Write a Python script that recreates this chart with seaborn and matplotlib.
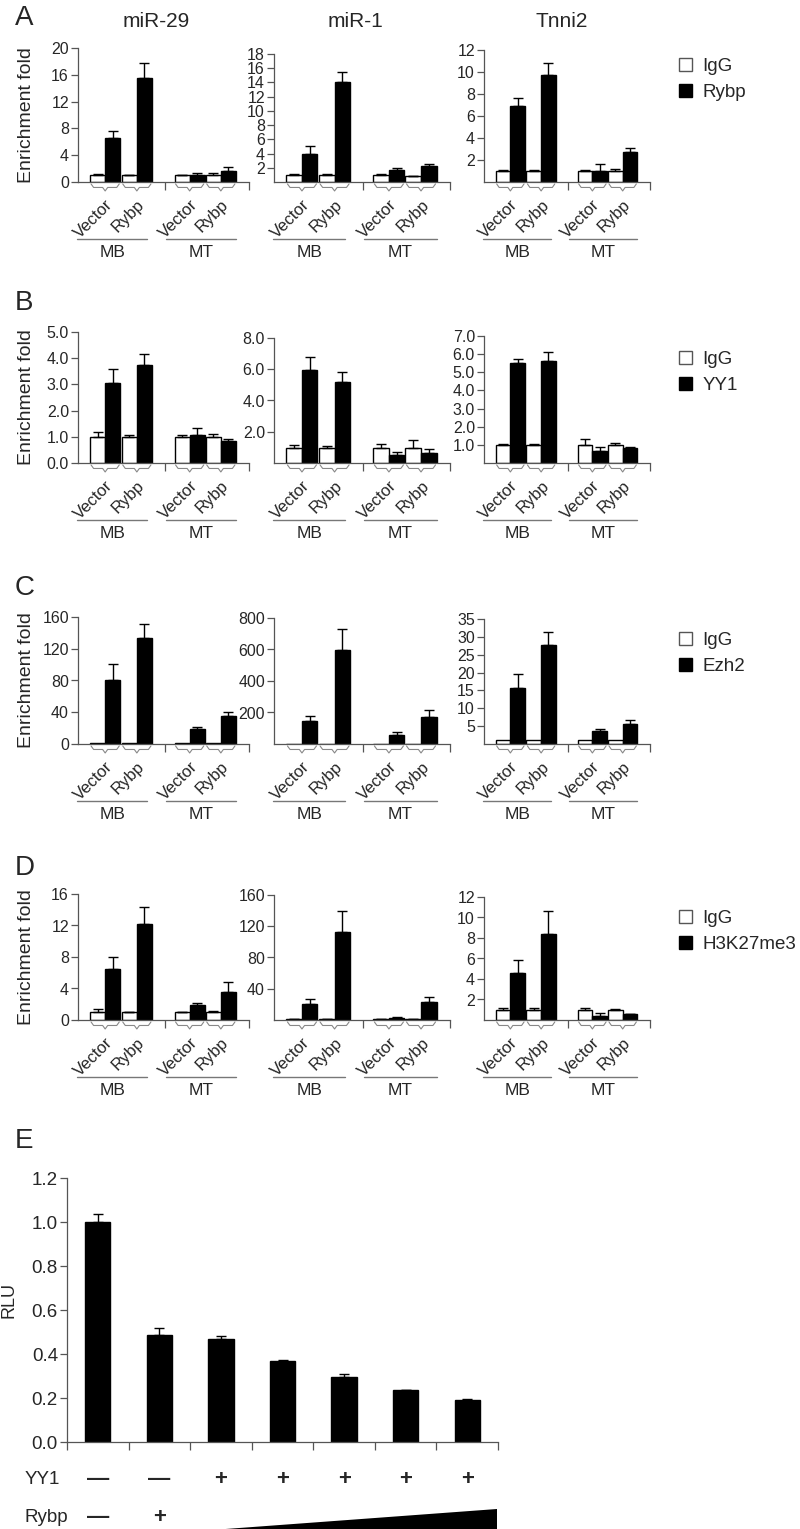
import numpy as np
import pandas as pd
import seaborn as sns
import matplotlib.pyplot as plt
import matplotlib.transforms as mtransforms
from matplotlib.patches import Patch, Polygon

# ---- data -------------------------------------------------------------
targets = ['miR-29', 'miR-1', 'Tnni2']
antibodies = ['Rybp', 'YY1', 'Ezh2', 'H3K27me3']
conditions = ['Vector', 'Rybp', 'Vector', 'Rybp']
cells = ['MB', 'MT']
letters = ['A', 'B', 'C', 'D', 'E']

# each entry: [miR-29, miR-1, Tnni2], 4 values = MB-Vector, MB-Rybp, MT-Vector, MT-Rybp
rybp_igg = [[1.0, 1.0, 1.0, 1.0], [1.0, 1.0, 1.0, 0.8], [1.0, 1.0, 1.0, 1.0]]
rybp_igg_err = [[0.2, 0.1, 0.05, 0.4], [0.1, 0.05, 0.05, 0.1], [0.05, 0.1, 0.1, 0.2]]
rybp_ab = [[6.5, 15.5, 1.1, 1.7], [4.0, 14.0, 1.7, 2.2], [6.9, 9.7, 1.0, 2.75]]
rybp_ab_err = [[1.1, 2.2, 0.3, 0.5], [1.0, 1.5, 0.2, 0.3], [0.7, 1.1, 0.6, 0.35]]

yy1_igg = [[1.0, 1.0, 1.0, 1.0], [0.95, 0.95, 0.94, 0.98], [1.0, 1.0, 1.0, 1.0]]
yy1_igg_err = [[0.2, 0.08, 0.08, 0.1], [0.2, 0.12, 0.3, 0.5], [0.02, 0.05, 0.32, 0.12]]
yy1_ab = [[3.05, 3.75, 1.07, 0.82], [5.95, 5.17, 0.51, 0.66], [5.5, 5.62, 0.68, 0.81]]
yy1_ab_err = [[0.55, 0.4, 0.28, 0.1], [0.8, 0.68, 0.2, 0.24], [0.22, 0.5, 0.22, 0.09]]

ezh2_igg = [[1.0, 1.0, 1.0, 1.0], [1.0, 1.0, 1.0, 1.0], [1.1, 1.1, 1.1, 1.1]]
ezh2_igg_err = [[0, 0, 0, 0], [0, 0, 0, 0], [0, 0, 0, 0]]
ezh2_ab = [[80, 134, 19, 35.5], [148, 597, 55, 173], [15.6, 27.7, 3.6, 5.6]]
ezh2_ab_err = [[21, 17, 2, 5.2], [32, 131, 18, 43], [3.9, 3.7, 0.5, 1.1]]

h3k_igg = [[1.0, 1.0, 1.0, 1.0], [1.0, 1.0, 1.0, 0.8], [1.0, 1.0, 1.0, 1.0]]
h3k_igg_err = [[0.35, 0.05, 0.05, 0.2], [0.2, 0.2, 0.2, 0.2], [0.2, 0.2, 0.2, 0.12]]
h3k_ab = [[6.5, 12.2, 1.9, 3.6], [20.5, 113, 3.0, 23.5], [4.6, 8.4, 0.42, 0.55]]
h3k_ab_err = [[1.55, 2.1, 0.3, 1.2], [6.5, 27, 1.0, 5.5], [1.25, 2.25, 0.23, 0.05]]

yticks_rybp = [[0, 4, 8, 12, 16, 20], [2, 4, 6, 8, 10, 12, 14, 16, 18], [2, 4, 6, 8, 10, 12]]
yticks_yy1 = [[0, 1, 2, 3, 4, 5], [2, 4, 6, 8], [1, 2, 3, 4, 5, 6, 7]]
yticks_ezh2 = [[0, 40, 80, 120, 160], [200, 400, 600, 800], [5, 10, 15, 20, 25, 30, 35]]
yticks_h3k = [[0, 4, 8, 12, 16], [40, 80, 120, 160], [2, 4, 6, 8, 10, 12]]

igg_all = [rybp_igg, yy1_igg, ezh2_igg, h3k_igg]
igg_err_all = [rybp_igg_err, yy1_igg_err, ezh2_igg_err, h3k_igg_err]
ab_all = [rybp_ab, yy1_ab, ezh2_ab, h3k_ab]
ab_err_all = [rybp_ab_err, yy1_ab_err, ezh2_ab_err, h3k_ab_err]
yticks_all = [yticks_rybp, yticks_yy1, yticks_ezh2, yticks_h3k]
tick_fmt = ['{:.0f}', '{:.1f}', '{:.0f}', '{:.0f}']

# panel E luciferase
rlu = [1.0, 0.485, 0.468, 0.37, 0.297, 0.235, 0.19]
rlu_err = [0.035, 0.035, 0.015, 0.003, 0.012, 0.003, 0.007]
yy1_marks = ['—', '—', '+', '+', '+', '+', '+']
rybp_marks = ['—', '+']
rlu_ticks = [0.0, 0.2, 0.4, 0.6, 0.8, 1.0, 1.2]

# ---- layout (pixels) ----------------------------------------------------
W, H = 800, 1529
row_bottom = [182, 463, 744, 1020]
row_tops = [[48, 54, 50], [332, 338, 336], [617, 618, 619], [894, 895, 897]]
col_left = [78, 274, 484]
col_width = [171, 176, 166]
pair_x = [27, 58.5, 111, 142]
letter_base = [25, 310, 595, 875, 1148]
leg_top = [58, 351, 632, 910]

sns.set_style('ticks')
plt.rcParams['font.family'] = ['Liberation Sans', 'DejaVu Sans']
AX = '#555555'

fig = plt.figure(figsize=(8, 15.2905), dpi=100)
pxT = mtransforms.Affine2D().scale(1 / W, -1 / H).translate(0, 1) + fig.transFigure


def px_axes(l, t, w, h):
    return fig.add_axes([l / W, 1 - (t + h) / H, w / W, h / H])


def interleave(a, b):
    out = []
    for u, v in zip(a, b):
        out += [u, v]
    return out


def add_errs(ax, errs):
    bars = sorted(ax.patches, key=lambda p: p.get_x())
    for p, e in zip(bars, errs):
        if e > 0:
            ax.errorbar(p.get_x() + p.get_width() / 2, p.get_height(), yerr=[[0], [e]],
                        fmt='none', ecolor='black', elinewidth=1, capsize=3.5, capthick=1)


for c, t in enumerate(targets):
    fig.text(col_left[c] + [78, 81, 78][c], 27, t, transform=pxT, ha='center',
             va='baseline', fontsize=15)

for r, ab in enumerate(antibodies):
    bot = row_bottom[r]
    fig.text(15, letter_base[r], letters[r], transform=pxT, fontsize=20, va='baseline')
    for c, tgt in enumerate(targets):
        top = row_tops[r][c]
        ax = px_axes(col_left[c], top, col_width[c], bot - top)
        df = pd.DataFrame({
            'pos': np.repeat(pair_x, 2),
            'ab': ['IgG', ab] * 4,
            'val': interleave(igg_all[r][c], ab_all[r][c]),
        })
        sns.barplot(data=df, x='pos', y='val', hue='ab', hue_order=['IgG', ab],
                    palette={'IgG': 'white', ab: 'black'}, native_scale=True,
                    width=30 / 31, errorbar=None, saturation=1, edgecolor='black',
                    linewidth=1, legend=False, ax=ax)
        add_errs(ax, interleave(igg_err_all[r][c], ab_err_all[r][c]))

        yt = yticks_all[r][c]
        ax.set_yticks(yt, [tick_fmt[r].format(v) for v in yt])
        ax.set_xticks(pair_x, conditions, rotation=45, ha='right', va='top',
                      rotation_mode='anchor', fontsize=12)
        ax.set_xticks([86, 170], minor=True)
        ax.tick_params(axis='x', which='major', length=0, pad=10.5)
        ax.tick_params(axis='x', which='minor', length=6, width=0.9, color=AX)
        ax.tick_params(axis='y', length=5, width=0.9, color=AX, pad=1.5, labelsize=11.5)
        ax.set_xlabel('')
        ax.set_ylabel('')
        sns.despine(ax=ax)
        for s in ['left', 'bottom']:
            ax.spines[s].set_color(AX)
            ax.spines[s].set_linewidth(0.9)

        # braces, group lines and cell labels under the axis
        tr = mtransforms.blended_transform_factory(ax.transData, pxT)
        y0 = bot + 2
        for cx in pair_x:
            x0, x1 = cx - 14, cx + 14
            ax.plot([x0, x0 + 2.5, cx - 2.5, cx, cx + 2.5, x1 - 2.5, x1],
                    [y0, y0 + 3.5, y0 + 3.5, y0 + 7, y0 + 3.5, y0 + 3.5, y0],
                    transform=tr, color='#888888', lw=0.8, clip_on=False)
        for (gx0, gx1), cell in zip([(-1, 69), (87, 157)], cells):
            ax.plot([gx0, gx1], [bot + 57, bot + 57], transform=tr, color='#777777',
                    lw=1, clip_on=False)
            ax.text((gx0 + gx1) / 2, bot + 70, cell, transform=tr, ha='center',
                    va='center', fontsize=12.5)
        ax.set_xlim(0, 170)
        ax.set_ylim(0, yt[-1])

    fig.text(27, (row_tops[r][0] + bot) / 2, 'Enrichment fold', transform=pxT,
             rotation=90, ha='center', va='center', fontsize=14)
    handles = [Patch(facecolor='white', edgecolor=AX, lw=1),
               Patch(facecolor='black', edgecolor='black', lw=1)]
    fig.legend(handles, ['IgG', ab], loc='upper left', bbox_to_anchor=(679, leg_top[r]),
               bbox_transform=pxT, frameon=False, fontsize=13.5, handlelength=0.7,
               handleheight=0.7, handletextpad=0.55, labelspacing=0.45, borderpad=0,
               borderaxespad=0)

# ---- panel E --------------------------------------------------------------
fig.text(15, letter_base[4], letters[4], transform=pxT, fontsize=20, va='baseline')
axE = px_axes(67, 1178, 431, 264)
dfE = pd.DataFrame({'lane': list(range(len(rlu))), 'rlu': rlu})
sns.barplot(data=dfE, x='lane', y='rlu', color='black', width=0.41, errorbar=None,
            saturation=1, edgecolor='black', ax=axE)
add_errs(axE, rlu_err)
axE.set_xlim(-0.5, len(rlu) - 0.5)
axE.set_ylim(0, 1.2)
axE.set_yticks(rlu_ticks, ['{:.1f}'.format(v) for v in rlu_ticks])
axE.set_xticks(range(len(rlu)), [''] * len(rlu))
axE.set_xticks(np.arange(len(rlu) + 1) - 0.5, minor=True)
axE.tick_params(axis='x', which='major', length=0)
axE.tick_params(axis='x', which='minor', length=6, width=0.9, color=AX)
axE.tick_params(axis='y', length=5, width=0.9, color=AX, pad=1.5, labelsize=13.5)
axE.set_xlabel('')
axE.set_ylabel('')
sns.despine(ax=axE)
for s in ['left', 'bottom']:
    axE.spines[s].set_color(AX)
    axE.spines[s].set_linewidth(0.9)

fig.text(9, 1300, 'RLU', transform=pxT, rotation=90, ha='center', va='center', fontsize=13)
trE = mtransforms.blended_transform_factory(axE.transData, pxT)
fig.text(25, 1479, 'YY1', transform=pxT, va='center', fontsize=13.5)
fig.text(25, 1517, 'Rybp', transform=pxT, va='center', fontsize=13.5)
for i, m in enumerate(yy1_marks):
    axE.text(i, 1479, m, transform=trE, ha='center', va='center', fontsize=16,
             fontweight='bold')
for i, m in enumerate(rybp_marks):
    axE.text(i, 1517, m, transform=trE, ha='center', va='center', fontsize=16,
             fontweight='bold')
fig.add_artist(Polygon([(212, 1530), (497, 1530), (497, 1509)], closed=True,
                       transform=pxT, facecolor='black', edgecolor='none'))

fig.savefig('out.png', dpi=100)
